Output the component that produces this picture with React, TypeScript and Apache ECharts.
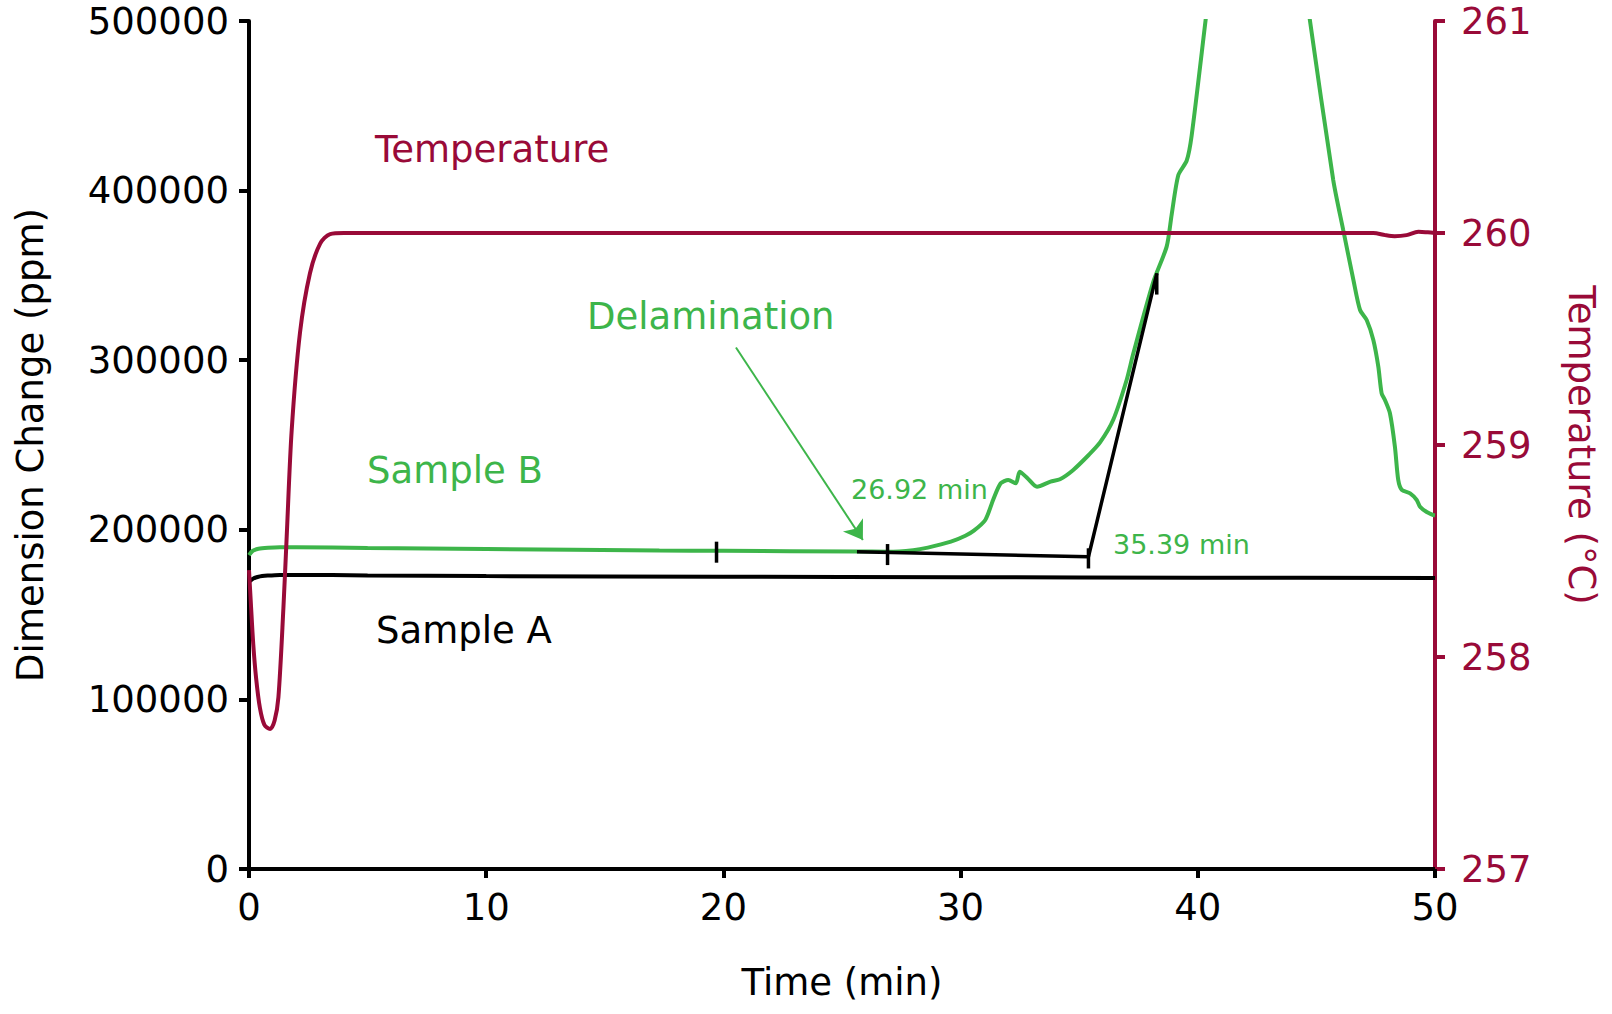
import React, { useEffect, useRef } from "react";
import * as echarts from "echarts";

const FONT = "'DejaVu Sans', 'Open Sans', sans-serif";
const GREEN = "#3db54a";
const RED = "#990a38";
const FS = 37;

// Temperature (°C) vs time (min)
const tempTime = [0, 0.08, 0.18, 0.3, 0.46, 0.65, 0.89, 1.08, 1.24, 1.45, 1.59, 1.8, 2.15, 2.57, 3.0, 3.42, 4, 10, 20, 30, 40, 47.4, 47.9, 48.3, 48.8, 49.3, 49.7, 50];
const tempValue = [258.41, 258.25, 258.06, 257.9, 257.76, 257.68, 257.66, 257.7, 257.81, 258.23, 258.57, 259.07, 259.53, 259.81, 259.95, 259.995, 260.0, 260.0, 260.0, 260.0, 260.0, 260.0, 259.99, 259.985, 259.99, 260.006, 260.003, 260.0];

// Sample A dimension change (ppm)
const sampleATime = [0, 0.15, 0.4, 0.8, 1.3, 2, 5, 10, 20, 30, 40, 50];
const sampleAValue = [169300, 171000, 172300, 173000, 173400, 173400, 173100, 172700, 172300, 172000, 171800, 171600];

// Sample B dimension change (ppm)
const sampleBTime = [0, 0.15, 0.4, 0.8, 1.3, 2, 5, 10, 17.3, 20, 25.6, 26.93, 28.0, 28.62, 29.59, 30.2, 30.56, 31.04, 31.37, 31.69, 32.01, 32.33, 32.49, 32.82, 33.22, 33.79, 34.19, 34.75, 35.4, 35.88, 36.44, 37.0, 37.28, 38.12, 38.69, 38.9, 39.18, 39.53, 39.74, 40.35, 40.5, 44.55, 44.7, 45.71, 46.13, 46.56, 46.84, 47.12, 47.4, 47.61, 47.75, 47.89, 48.1, 48.31, 48.45, 48.6, 48.95, 49.23, 49.37, 49.65, 49.93, 50];
const sampleBValue = [185100, 187500, 188800, 189400, 189700, 189700, 189300, 188700, 187800, 187600, 187200, 187100, 188000, 189500, 193000, 196500, 199500, 205800, 217600, 227400, 229400, 227400, 234200, 230400, 225400, 228400, 229800, 235300, 244100, 251500, 265000, 288300, 303900, 346000, 367100, 386000, 409200, 417600, 432400, 503000, 520000, 520000, 503000, 406200, 376800, 347300, 329600, 323700, 311900, 296200, 280500, 276500, 268700, 249000, 229400, 223500, 221500, 217600, 213600, 210500, 208700, 208500];

// Onset analysis construction lines
const onsetTime = [25.63, 35.39, 38.27];
const onsetValue = [187100, 184100, 351000];

// Analysis tick marks
const markTime = [19.71, 26.92, 35.39, 38.27];
const markLow = [180600, 179200, 177200, 338700];
const markHigh = [193000, 191600, 189100, 351300];

// Arrow (Delamination)
const arrowFrom = [20.53, 307500];
const arrowTo = [25.88, 194000];

const xTicks = { min: 0, max: 50, interval: 10 };
const yTicks = { min: 0, max: 500000, interval: 100000 };
const tTicks = { min: 257, max: 261, interval: 1 };

const zip = (a: number[], b: number[]) => a.map((v, i) => [v, b[i]]);
const plain = (v: number) => String(v);

export default function App() {
  const ref = useRef<HTMLDivElement>(null);
  useEffect(() => {
    document.body.style.margin = "0";
    document.body.style.overflow = "hidden";
    const chart = echarts.init(ref.current!, null, { renderer: "svg" });
    const markSeries = markTime.map((t, i) => ({
      type: "line",
      yAxisIndex: 0,
      data: [[t, markLow[i]], [t, markHigh[i]]],
      showSymbol: false,
      symbol: "none",
      lineStyle: { color: "#000", width: 3.5 },
      z: 5,
      silent: true,
    }));
    const option: any = {
      animation: false,
      backgroundColor: "#fff",
      textStyle: { fontFamily: FONT },
      grid: { left: 249, right: 177, top: 21, bottom: 145, containLabel: false },
      xAxis: {
        type: "value",
        ...xTicks,
        name: "Time (min)",
        nameLocation: "middle",
        nameGap: 98,
        nameTextStyle: { fontSize: FS, color: "#000", fontFamily: FONT, lineHeight: 30 },
        axisLine: { show: true, onZero: false, lineStyle: { color: "#000", width: 4 } },
        axisTick: { show: true, inside: false, length: 9, lineStyle: { color: "#000", width: 4 } },
        axisLabel: { fontSize: FS, color: "#000", margin: 20, fontFamily: FONT, formatter: plain },
        splitLine: { show: false },
      },
      yAxis: [
        {
          type: "value",
          ...yTicks,
          position: "left",
          name: "Dimension Change (ppm)",
          nameLocation: "middle",
          nameGap: 204,
          nameTextStyle: { fontSize: FS, color: "#000", fontFamily: FONT, lineHeight: 30 },
          axisLine: { show: true, onZero: false, lineStyle: { color: "#000", width: 4 } },
          axisTick: { show: true, inside: false, length: 10, lineStyle: { color: "#000", width: 4 } },
          axisLabel: { fontSize: FS, color: "#000", margin: 20, lineHeight: 34, fontFamily: FONT, formatter: plain },
          splitLine: { show: false },
        },
        {
          type: "value",
          ...tTicks,
          position: "right",
          name: "Temperature (°C)",
          nameLocation: "middle",
          nameRotate: -90,
          nameGap: 131,
          nameTextStyle: { fontSize: FS, color: RED, fontFamily: FONT, lineHeight: 30 },
          axisLine: { show: true, onZero: false, lineStyle: { color: RED, width: 4 } },
          axisTick: { show: true, inside: false, length: 10, lineStyle: { color: RED, width: 4 } },
          axisLabel: { fontSize: FS, color: RED, margin: 26, lineHeight: 34, fontFamily: FONT, formatter: plain },
          splitLine: { show: false },
        },
      ],
      series: [
        {
          name: "Sample A",
          type: "line",
          yAxisIndex: 0,
          data: zip(sampleATime, sampleAValue),
          showSymbol: false,
          symbol: "none",
          smooth: 0.3,
          lineStyle: { color: "#000", width: 4 },
          z: 3,
        },
        {
          name: "Sample B",
          type: "line",
          yAxisIndex: 0,
          data: zip(sampleBTime, sampleBValue),
          showSymbol: false,
          symbol: "none",
          smooth: 0.25,
          clip: true,
          lineStyle: { color: GREEN, width: 4 },
          z: 3,
        },
        {
          name: "Temperature",
          type: "line",
          yAxisIndex: 1,
          data: zip(tempTime, tempValue),
          showSymbol: false,
          symbol: "none",
          smooth: 0.3,
          lineStyle: { color: RED, width: 4 },
          z: 4,
        },
        {
          name: "Onset",
          type: "line",
          yAxisIndex: 0,
          data: zip(onsetTime, onsetValue),
          showSymbol: false,
          symbol: "none",
          lineStyle: { color: "#000", width: 3.5 },
          z: 5,
          markLine: {
            silent: true,
            symbol: ["none", "arrow"],
            symbolSize: 18,
            label: { show: false },
            emphasis: { disabled: true },
            lineStyle: { color: GREEN, width: 2, type: "solid" },
            itemStyle: { color: GREEN },
            data: [[{ coord: arrowFrom }, { coord: arrowTo }]],
          },
        },
        ...markSeries,
      ],
      graphic: [
        { type: "text", left: 375, top: 131, style: { text: "Temperature", fill: RED, fontSize: FS, fontFamily: FONT } },
        { type: "text", left: 587, top: 298, style: { text: "Delamination", fill: GREEN, fontSize: FS, fontFamily: FONT } },
        { type: "text", left: 367, top: 452, style: { text: "Sample B", fill: GREEN, fontSize: FS, fontFamily: FONT } },
        { type: "text", left: 376, top: 612, style: { text: "Sample A", fill: "#000", fontSize: FS, fontFamily: FONT } },
        { type: "text", left: 851, top: 476, style: { text: "26.92 min", fill: GREEN, fontSize: 27, fontFamily: FONT } },
        { type: "text", left: 1113, top: 531, style: { text: "35.39 min", fill: GREEN, fontSize: 27, fontFamily: FONT } },
      ],
    };
    chart.setOption(option);
    return () => chart.dispose();
  }, []);
  return <div ref={ref} style={{ width: 1612, height: 1014, overflow: "hidden", position: "relative" }} />;
}
